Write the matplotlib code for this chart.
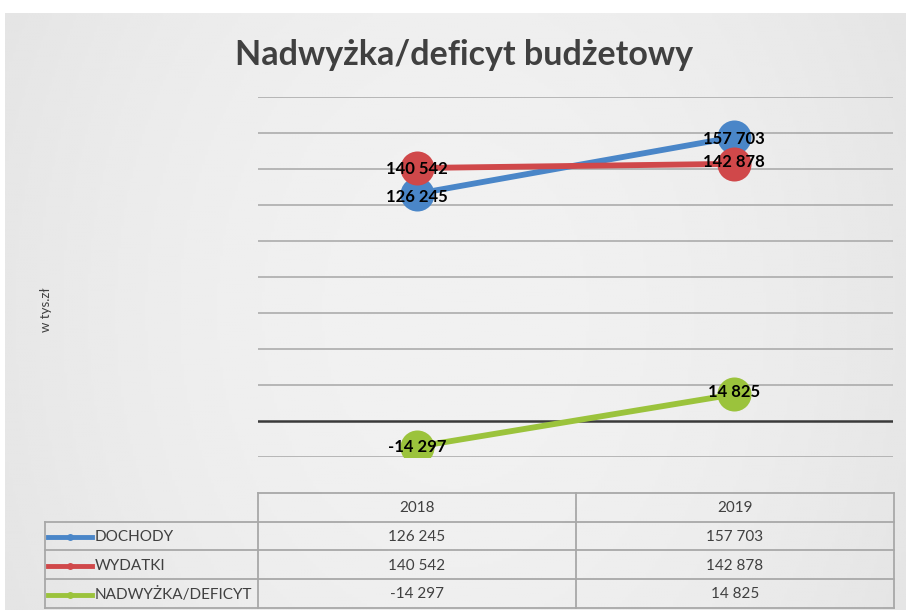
import numpy as np
import matplotlib.pyplot as plt
from matplotlib.lines import Line2D

years = ["2018", "2019"]
series_names = ["DOCHODY", "WYDATKI", "NADWYŻKA/DEFICYT"]
dochody = [126245, 157703]
wydatki = [140542, 142878]
nadwyzka = [-14297, 14825]
colors = ["#4a86c8", "#d0484a", "#9bc33c"]

W, H = 906, 610


def fx(x):
    return x / W


def fy(y):
    return 1 - y / H


def fmt(v):
    s = f"{abs(v):,}".replace(",", " ")
    return ("-" if v < 0 else "") + s


plt.rcParams["font.family"] = ["Lato", "DejaVu Sans"]

fig = plt.figure(figsize=(W / 100, H / 100), dpi=100, facecolor="white")

# grey background with soft gradient
bg = fig.add_axes([fx(5), 0, 1 - fx(5), fy(13)])
gx = np.linspace(-1, 1, 300)
gy = np.linspace(-1, 1, 200)
GX, GY = np.meshgrid(gx, gy)
grad = 0.945 - 0.04 * (GX ** 2) - 0.01 * (GY ** 2)
bg.imshow(grad, cmap="gray", vmin=0, vmax=1, aspect="auto",
          extent=[0, 1, 0, 1])
bg.axis("off")

# plot area
left, right, top, bottom = 258, 893, 97, 457
ax = fig.add_axes([fx(left), fy(bottom), fx(right) - fx(left), fy(top) - fy(bottom)])
ax.set_facecolor("none")
ax.set_xlim(-0.5, 1.5)
ax.set_ylim(-20000, 180000)
for v in range(-20000, 180001, 20000):
    if v == 0:
        ax.axhline(v, color="#3a3a3a", lw=1.8, zorder=1)
    else:
        ax.axhline(v, color="#a6a6a6", lw=1.1, zorder=1)
for sp in ax.spines.values():
    sp.set_visible(False)
ax.set_xticks([])
ax.set_yticks([])

x = np.arange(len(years))
for vals, c in zip([dochody, wydatki, nadwyzka], colors):
    ax.plot(x, vals, color=c, lw=4.2, marker="o", ms=24.5,
            markeredgewidth=0, zorder=3)

label_off = {
    0: [(0, -2), (0, -1)],
    1: [(0, -1), (0, 1)],
    2: [(0, 0), (0, 2)],
}
for i, vals in enumerate([dochody, wydatki, nadwyzka]):
    for j, v in enumerate(vals):
        dx, dy = label_off[i][j]
        ax.annotate(fmt(v), (x[j], v), xytext=(dx, dy), textcoords="offset points",
                    ha="center", va="center", fontsize=12, fontweight="bold",
                    color="black", zorder=5)

fig.text(fx(464), fy(55), "Nadwyżka/deficyt budżetowy", ha="center", va="center",
         fontsize=24.5, fontweight="bold", color="#404040")
fig.text(fx(46), fy(310), "w tys.zł", rotation=90, ha="center", va="center",
         fontsize=9.5, color="#404040")

# data table
col_x = [45, 258, 576, 894]
row_y = [493, 522, 550, 579, 608]
gc = "#a8a8a8"
tlw = 1.3


def hline(y, x0, x1):
    fig.add_artist(Line2D([fx(x0), fx(x1)], [fy(y), fy(y)], color=gc, lw=tlw))


def vline(x0, y0, y1):
    fig.add_artist(Line2D([fx(x0), fx(x0)], [fy(y0), fy(y1)], color=gc, lw=tlw))


hline(row_y[0], col_x[1], col_x[3])
for y in row_y[1:]:
    hline(y, col_x[0], col_x[3])
vline(col_x[0], row_y[1], row_y[4])
for cx in col_x[1:]:
    vline(cx, row_y[0], row_y[4])

tc = "#404040"
for j, yr in enumerate(years):
    fig.text(fx((col_x[j + 1] + col_x[j + 2]) / 2), fy((row_y[0] + row_y[1]) / 2 + 1),
             yr, ha="center", va="center", fontsize=11, color=tc)

for i, (name, vals, c) in enumerate(zip(series_names, [dochody, wydatki, nadwyzka], colors)):
    yc = (row_y[i + 1] + row_y[i + 2]) / 2 + 1
    fig.add_artist(Line2D([fx(48), fx(92)], [fy(yc), fy(yc)], color=c, lw=3.5))
    fig.add_artist(Line2D([fx(70)], [fy(yc)], color=c, marker="o", ms=5,
                          markeredgewidth=0))
    fig.text(fx(95), fy(yc), name, ha="left", va="center", fontsize=11, color=tc)
    for j, v in enumerate(vals):
        fig.text(fx((col_x[j + 1] + col_x[j + 2]) / 2), fy(yc), fmt(v),
                 ha="center", va="center", fontsize=11, color=tc)

fig.savefig("out.png", dpi=100, facecolor="white")
